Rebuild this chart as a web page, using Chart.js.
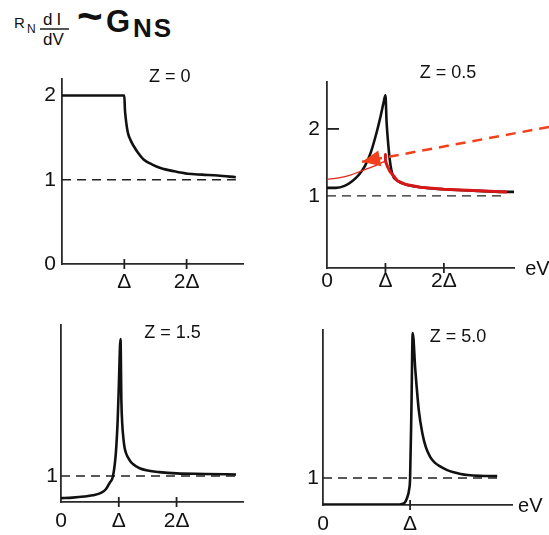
<!DOCTYPE html>
<html>
<head>
<meta charset="utf-8">
<script src="https://cdn.jsdelivr.net/npm/chart.js@4.4.1/dist/chart.umd.min.js"></script>
<style>
  html, body { margin: 0; padding: 0; background: #fff; }
  body { width: 549px; height: 535px; position: relative; overflow: hidden; }
  canvas { position: absolute; }
  .t { position: absolute; line-height: 1; font-family: "Liberation Sans", Arial, sans-serif; color: #111; white-space: nowrap; }
  .b { font-weight: bold; }
</style>
</head>
<body>
<div class="t" style="left:14px;top:15px;font-size:15px">R</div>
<div class="t" style="left:27px;top:23px;font-size:12px">N</div>
<div class="t" style="left:43px;top:11px;font-size:17px;letter-spacing:4px">dI</div>
<div style="position:absolute;left:40px;top:28px;width:29px;height:1.5px;background:#555"></div>
<div class="t" style="left:43px;top:31px;font-size:17px">dV</div>
<div class="t b" style="left:77px;top:-6px;font-size:44px">~</div>
<div class="t b" style="left:106px;top:6px;font-size:31px">G</div>
<div class="t b" style="left:133px;top:15px;font-size:26px;letter-spacing:2px">NS</div>

<canvas id="p1" width="260" height="240" style="left:0;top:60px"></canvas>
<canvas id="p2" width="259" height="240" style="left:290px;top:60px"></canvas>
<canvas id="p3" width="260" height="235" style="left:0;top:300px"></canvas>
<canvas id="p4" width="259" height="235" style="left:290px;top:300px"></canvas>

<script>
// --- data (x in units of Delta, y in units of 1/R_N) ---
const panelLabels = ["Z = 0", "Z = 0.5", "Z = 1.5", "Z = 5.0"];
const xTickLabels = ["0", "\u0394", "2\u0394"];
const normalLevel = 1;
const normalLineEnds = [2.79, 3.03, 3.03, 2.0];

// Z = 0
const z0X = [0, 1.0, 1.01, 1.02, 1.04, 1.06, 1.1, 1.15, 1.22, 1.31, 1.45, 1.58, 1.8, 2.02, 2.25, 2.5, 2.79];
const z0Y = [2.0, 2.0, 1.83, 1.75, 1.63, 1.55, 1.47, 1.4, 1.32, 1.24, 1.18, 1.14, 1.1, 1.07, 1.06, 1.05, 1.03];

// Z = 0.5 (black), plus the red smeared curve drawn over it
const z05X = [0, 0.15, 0.3, 0.43, 0.55, 0.65, 0.75, 0.85, 0.92, 0.97, 1.0, 1.02, 1.05, 1.08, 1.12, 1.2, 1.35, 1.6, 2.0, 2.5, 3.0, 3.2];
const z05Y = [1.12, 1.12, 1.15, 1.22, 1.32, 1.45, 1.65, 1.95, 2.2, 2.4, 2.5, 2.1, 1.75, 1.5, 1.32, 1.23, 1.17, 1.13, 1.1, 1.08, 1.06, 1.06];
const redInX = [0, 0.2, 0.4, 0.55, 0.7, 0.85, 1.0];
const redInY = [1.25, 1.27, 1.31, 1.36, 1.41, 1.46, 1.52];
const redOutX = [1.0, 1.0, 1.04, 1.08, 1.12, 1.2, 1.35, 1.6, 2.0, 2.5, 3.08];
const redOutY = [1.62, 1.52, 1.43, 1.36, 1.32, 1.23, 1.17, 1.13, 1.1, 1.08, 1.06];
const arrowX = [3.8, 0.6];
const arrowY = [2.03, 1.51];

// Z = 1.5
const z15X = [0, 0.2, 0.4, 0.55, 0.7, 0.78, 0.84, 0.9, 0.95, 0.98, 1.0, 1.03, 1.045, 1.06, 1.08, 1.1, 1.13, 1.19, 1.25, 1.36, 1.5, 1.7, 2.0, 2.5, 3.03];
const z15Y = [0.15, 0.17, 0.21, 0.26, 0.36, 0.5, 0.73, 1.0, 1.9, 3.1, 4.4, 6.27, 3.9, 3.0, 2.45, 2.1, 1.85, 1.6, 1.45, 1.3, 1.21, 1.15, 1.1, 1.08, 1.06];

// Z = 5.0
const z5X = [0, 0.5, 0.88, 0.93, 0.965, 0.99, 1.0, 1.015, 1.03, 1.06, 1.1, 1.14, 1.18, 1.23, 1.28, 1.35, 1.42, 1.5, 1.58, 1.66, 1.8, 2.0];
const z5Y = [0.02, 0.02, 0.02, 0.06, 0.26, 0.6, 1.0, 3.5, 6.37, 5.0, 3.5, 2.67, 2.15, 1.78, 1.58, 1.42, 1.3, 1.21, 1.15, 1.11, 1.08, 1.07];

const pts = (xs, ys) => xs.map((x, i) => ({ x: x, y: ys[i] }));

const INK = "#111";
const FONT = '"Liberation Sans", Arial, sans-serif';

// draws the crossing tick marks, panel titles, eV and the red arrow head
const panelDecor = {
  id: "panelDecor",
  afterDraw(chart, args, opts) {
    const { ctx, chartArea, scales } = chart;
    const x = scales.x, y = scales.y;
    ctx.save();
    ctx.strokeStyle = "#222";
    ctx.lineWidth = 1.8;
    (opts.xMarks || []).forEach(v => {
      const px = x.getPixelForValue(v);
      ctx.beginPath();
      ctx.moveTo(px, chartArea.bottom - 5);
      ctx.lineTo(px, chartArea.bottom + 5);
      ctx.stroke();
    });
    (opts.yMarks || []).forEach(v => {
      const py = y.getPixelForValue(v);
      ctx.beginPath();
      ctx.moveTo(chartArea.left, py);
      ctx.lineTo(chartArea.left + 12, py);
      ctx.stroke();
    });
    ctx.fillStyle = INK;
    ctx.textAlign = "center";
    ctx.textBaseline = "middle";
    (opts.notes || []).forEach(n => {
      ctx.font = n.size + "px " + FONT;
      ctx.fillText(n.text, x.getPixelForValue(n.x), y.getPixelForValue(n.y));
    });
    if (opts.arrow) {
      const x0 = x.getPixelForValue(arrowX[0]), y0 = y.getPixelForValue(arrowY[0]);
      const x1 = x.getPixelForValue(arrowX[1]), y1 = y.getPixelForValue(arrowY[1]);
      const a = Math.atan2(y1 - y0, x1 - x0);
      const len = 18, half = 8;
      const bx = x1 - len * Math.cos(a), by = y1 - len * Math.sin(a);
      ctx.fillStyle = opts.arrow;
      ctx.beginPath();
      ctx.moveTo(x1, y1);
      ctx.lineTo(bx + half * Math.sin(a), by - half * Math.cos(a));
      ctx.lineTo(bx - half * Math.sin(a), by + half * Math.cos(a));
      ctx.closePath();
      ctx.fill();
    }
    ctx.restore();
  }
};

function curve(data, color, width, order, smooth) {
  const ds = { data: data, borderColor: color, borderWidth: width, pointRadius: 0, tension: 0, order: order, borderJoinStyle: "round" };
  if (smooth) ds.cubicInterpolationMode = "monotone";
  return ds;
}

function normalLine(end) {
  return { data: pts([0, end], [normalLevel, normalLevel]), borderColor: "#222", borderWidth: 1.3,
           borderDash: [9, 6], pointRadius: 0, order: 5 };
}

function makePanel(p) {
  new Chart(document.getElementById(p.id), {
    type: "line",
    data: { datasets: p.datasets },
    options: {
      responsive: false,
      animation: false,
      events: [],
      layout: { autoPadding: false, padding: { top: p.padTop, right: p.padRight, left: 0, bottom: 0 } },
      plugins: {
        legend: { display: false },
        tooltip: { enabled: false },
        panelDecor: { xMarks: p.xMarks, yMarks: p.yMarks, notes: p.notes, arrow: p.arrow }
      },
      scales: {
        x: {
          type: "linear", min: 0, max: p.xMax,
          grid: { display: false, drawTicks: false },
          border: { display: true, color: "#2a2a2a", width: 1.8 },
          afterBuildTicks: s => { s.ticks = p.xTicks.map(v => ({ value: v })); },
          afterFit: s => { s.height = p.xh; },
          ticks: { autoSkip: false, maxRotation: 0, padding: p.xPad, color: INK,
                   font: { family: FONT, size: 21 },
                   callback: v => xTickLabels[Math.round(v)] }
        },
        y: {
          type: "linear", min: p.yMin, max: p.yMax,
          grid: { display: false, drawTicks: false },
          border: { display: true, color: "#2a2a2a", width: 1.8 },
          afterBuildTicks: s => { s.ticks = p.yTicks.map(v => ({ value: v })); },
          afterFit: s => { s.width = p.yw; },
          ticks: { autoSkip: false, padding: p.yPad, color: INK,
                   font: { family: FONT, size: 21 },
                   callback: v => String(v) }
        }
      }
    },
    plugins: [panelDecor]
  });
}

const RED_ARROW = "#f2401c";

makePanel({
  id: "p1", yw: 62, xh: 36, padTop: 15, padRight: 17,
  xMax: 2.905, yMin: 0, yMax: 2.2, xTicks: [1, 2], yTicks: [0, 1, 2], xPad: 6, yPad: 6,
  xMarks: [1, 2],
  notes: [{ text: panelLabels[0], x: 1.73, y: 2.22, size: 18 }],
  datasets: [curve(pts(z0X, z0Y), INK, 2.6, 3, true), normalLine(normalLineEnds[0])]
});

makePanel({
  id: "p2", yw: 37, xh: 32, padTop: 22, padRight: 35,
  xMax: 3.2, yMin: -0.075, yMax: 2.7, xTicks: [0, 1, 2], yTicks: [1, 2], xPad: 1, yPad: 7,
  xMarks: [1, 2], yMarks: [2],
  notes: [{ text: panelLabels[1], x: 2.07, y: 2.84, size: 18 }, { text: "eV", x: 3.6, y: -0.1, size: 20 }],
  arrow: RED_ARROW,
  datasets: [
    { data: pts(arrowX, arrowY), borderColor: RED_ARROW, borderWidth: 2.5, borderDash: [10, 7],
      pointRadius: 0, clip: false, order: 0 },
    curve(pts(redInX, redInY), "#e0281e", 1.3, 1, true),
    curve(pts(redOutX, redOutY), "#d81818", 3, 1, false),
    curve(pts(z05X, z05Y), INK, 2.6, 3, true),
    normalLine(normalLineEnds[1])
  ]
});

makePanel({
  id: "p3", yw: 61, xh: 33, padTop: 25, padRight: 17,
  xMax: 3.15, yMin: 0, yMax: 6.81, xTicks: [0, 1, 2], yTicks: [1], xPad: 7, yPad: 3,
  xMarks: [1, 2],
  notes: [{ text: panelLabels[2], x: 1.93, y: 6.5, size: 18 }],
  datasets: [curve(pts(z15X, z15Y), INK, 2.6, 3, true), normalLine(normalLineEnds[2])]
});

makePanel({
  id: "p4", yw: 33, xh: 30, padTop: 30, padRight: 37,
  xMax: 2.17, yMin: 0, yMax: 6.48, xTicks: [0, 1], yTicks: [1], xPad: 7, yPad: 4,
  xMarks: [1],
  notes: [{ text: panelLabels[3], x: 1.55, y: 6.22, size: 18 }, { text: "eV", x: 2.38, y: -0.07, size: 20 }],
  datasets: [curve(pts(z5X, z5Y), INK, 2.6, 3, true), normalLine(normalLineEnds[3])]
});
</script>
</body>
</html>
